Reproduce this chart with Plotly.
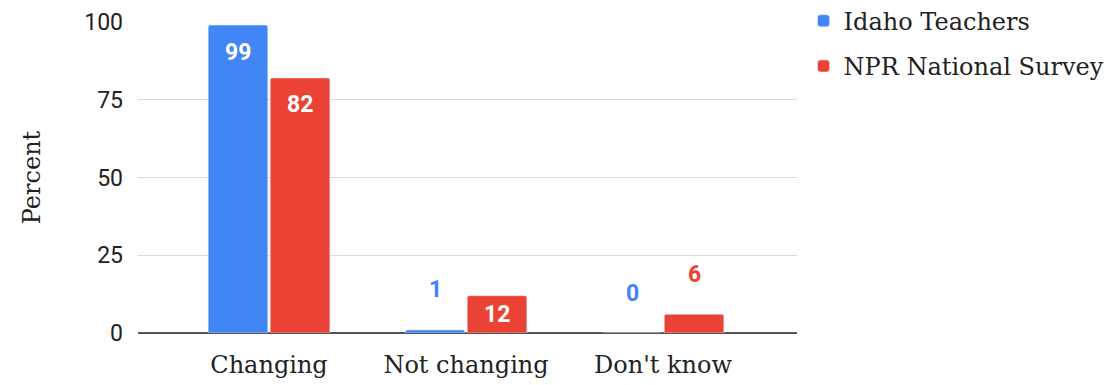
import plotly.graph_objects as go

categories = ["Changing", "Not changing", "Don't know"]
idaho_teachers = [99, 1, 0]
npr_national = [82, 12, 6]
y_ticks = [0, 25, 50, 75, 100]

BLUE = "#4285F4"
RED = "#EA4335"
SERIF = "DejaVu Serif"
SANS = "Roboto"

fig = go.Figure()
fig.add_trace(go.Bar(name="Idaho Teachers", x=categories, y=idaho_teachers,
                     marker=dict(color=BLUE, cornerradius=2), legendgroup="a"))
fig.add_trace(go.Bar(name="NPR National Survey", x=categories, y=npr_national,
                     marker=dict(color=RED, cornerradius=2), legendgroup="b"))

# value labels: inside near the top for tall bars, centred for mid bars,
# above the bar in series colour for short ones
annotations = []
for values, color, shift in ((idaho_teachers, BLUE, -31), (npr_national, RED, 31)):
    for cat, v in zip(categories, values):
        if v >= 20:
            y, ys, c = v, -27, "white"
        elif v >= 10:
            y, ys, c = v / 2, 0, "white"
        else:
            y, ys, c = v, 40, color
        annotations.append(dict(x=cat, y=y, xref="x", yref="y", text=str(v),
                                showarrow=False, xshift=shift, yshift=ys,
                                font=dict(family=SANS, size=23, color=c, weight="bold")))

fig.update_layout(
    width=1118, height=385,
    margin=dict(l=138, r=321, t=22, b=52, autoexpand=False),
    paper_bgcolor="white", plot_bgcolor="white",
    barmode="group", bargap=0.37, bargroupgap=0.04,
    annotations=annotations,
    showlegend=True,
    legend=dict(x=1.01, y=1.075, xanchor="left", yanchor="top",
                font=dict(family=SERIF, size=24, color="#222"),
                tracegroupgap=11, itemwidth=30),
    xaxis=dict(range=[-0.665, 2.68], showgrid=False, ticks="",
               ticklabelstandoff=15,
               tickfont=dict(family=SERIF, size=24, color="#222")),
    yaxis=dict(range=[0, 100], tickvals=y_ticks, showgrid=True,
               gridcolor="#d9d9d9", gridwidth=1, zeroline=True,
               zerolinecolor="#555", zerolinewidth=1.5,
               ticklabelstandoff=14,
               tickfont=dict(family=SANS, size=23, color="#222"),
               title=dict(text="Percent", font=dict(family=SERIF, size=24, color="#222"),
                          standoff=36)),
)

fig.write_html("out.html")
